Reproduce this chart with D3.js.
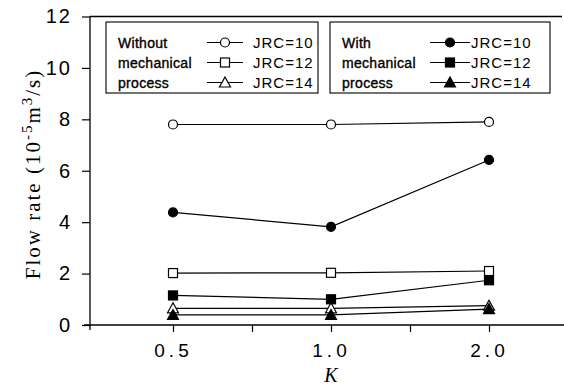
<!DOCTYPE html>
<html>
<head>
<meta charset="utf-8">
<script src="https://cdn.jsdelivr.net/npm/d3@7"></script>
<style>
  body { margin: 0; background: #fff; }
  svg { display: block; }
</style>
</head>
<body>
<div id="chart"></div>
<script>
// values
const kLabels = ["0.5", "1.0", "2.0"]
const kSlots = [1, 3, 5]          // the three K values sit on every other tick
const yTicks = [0, 2, 4, 6, 8, 10, 12]

const withoutJrc10 = [7.8, 7.8, 7.9]
const withoutJrc12 = [2.02, 2.03, 2.1]
const withoutJrc14 = [0.65, 0.65, 0.75]
const withJrc10 = [4.38, 3.82, 6.42]
const withJrc12 = [1.15, 1.0, 1.74]
const withJrc14 = [0.39, 0.39, 0.62]

const series = [
    {name: "JRC=10", values: withoutJrc10, shape: "circle", filled: false},
    {name: "JRC=12", values: withoutJrc12, shape: "square", filled: false},
    {name: "JRC=14", values: withoutJrc14, shape: "triangle", filled: false},
    {name: "JRC=10", values: withJrc10, shape: "circle", filled: true},
    {name: "JRC=12", values: withJrc12, shape: "square", filled: true},
    {name: "JRC=14", values: withJrc14, shape: "triangle", filled: true}
]

const WIDTH = 564, HEIGHT = 389

const svg = d3.select("#chart")
    .append("svg")
    .attr("width", WIDTH)
    .attr("height", HEIGHT)

const x = d3.scaleLinear()
    .domain([0, 6])
    .range([94, 568])

const y = d3.scaleLinear()
    .domain([0, 12])
    .range([325, 16.5])

const sansFont = "'Liberation Sans', Arial, sans-serif"
const serifFont = "'Liberation Serif', 'Times New Roman', serif"

// frame: top line, left axis, bottom axis
svg.append("line")
    .attr("x1", 90).attr("x2", 562)
    .attr("y1", y(12)).attr("y2", y(12))
    .attr("stroke", "#000").attr("stroke-width", 1.3)

const yAxis = d3.axisLeft(y)
    .tickValues(yTicks)
    .tickSize(8)
    .tickPadding(10)
const gy = svg.append("g")
    .attr("transform", "translate(90,0)")
    .call(yAxis)
gy.select(".domain").attr("d", "M0," + (y(12)) + "V" + (y(0) + 5)).attr("stroke-width", 1.3)
gy.selectAll(".tick line").attr("stroke-width", 1.2)
gy.selectAll(".tick text")
    .attr("font-family", sansFont)
    .attr("font-size", "20px")
    .attr("letter-spacing", "2px")
    .attr("fill", "#000")

const xAxis = d3.axisBottom(x)
    .tickValues([1, 2, 3, 4, 5])
    .tickFormat(d => kSlots.includes(d) ? kLabels[kSlots.indexOf(d)] : "")
    .tickSize(7)
    .tickPadding(12)
const gx = svg.append("g")
    .attr("transform", "translate(0," + y(0) + ")")
    .call(xAxis)
gx.select(".domain").attr("d", "M84,0H564").attr("stroke-width", 1.3)
gx.selectAll(".tick line").attr("stroke-width", 1.2)
gx.selectAll(".tick text")
    .attr("font-family", sansFont)
    .attr("font-size", "19px")
    .attr("letter-spacing", "4px")
    .attr("fill", "#000")

// axis titles
svg.append("text")
    .attr("x", x(3))
    .attr("y", 382)
    .attr("text-anchor", "middle")
    .attr("font-family", serifFont)
    .attr("font-style", "italic")
    .attr("font-size", "20px")
    .text("K")

const yLabel = svg.append("text")
    .attr("transform", "translate(40,174) rotate(-90)")
    .attr("text-anchor", "middle")
    .attr("font-family", serifFont)
    .attr("font-size", "21px")
    .attr("letter-spacing", "2px")
yLabel.append("tspan").text("Flow rate (10")
yLabel.append("tspan").attr("dy", -8).attr("font-size", "15px").text("-5")
yLabel.append("tspan").attr("dy", 8).text("m")
yLabel.append("tspan").attr("dy", -8).attr("font-size", "15px").text("3")
yLabel.append("tspan").attr("dy", 8).text("/s)")

// markers
function drawMarker(g, shape, filled, cx, cy) {
    const fill = filled ? "#000" : "#fff"
    if (shape === "circle") {
        g.append("circle").attr("cx", cx).attr("cy", cy).attr("r", 4.5)
            .attr("fill", fill).attr("stroke", "#000").attr("stroke-width", 1.2)
    } else if (shape === "square") {
        g.append("rect").attr("x", cx - 4.5).attr("y", cy - 4.5)
            .attr("width", 9).attr("height", 9)
            .attr("fill", fill).attr("stroke", "#000").attr("stroke-width", 1.2)
    } else {
        g.append("path")
            .attr("d", "M" + cx + "," + (cy - 5.5) + "L" + (cx + 5.5) + "," + (cy + 4.5) + "L" + (cx - 5.5) + "," + (cy + 4.5) + "Z")
            .attr("fill", fill).attr("stroke", "#000").attr("stroke-width", 1.2)
    }
}

const line = d3.line()
    .x((d, i) => x(kSlots[i]))
    .y(d => y(d))

const plot = svg.append("g")
series.forEach(s => {
    plot.append("path")
        .datum(s.values)
        .attr("d", line)
        .attr("fill", "none")
        .attr("stroke", "#000")
        .attr("stroke-width", 1.2)
})
series.forEach(s => {
    s.values.forEach((v, i) => drawMarker(plot, s.shape, s.filled, x(kSlots[i]), y(v)))
})

// legends
const legendBoxes = [
    {x: 106, title: ["Without", "mechanical", "process"], items: series.slice(0, 3), lx1: 207, lx2: 243, tx: 253},
    {x: 330, title: ["With", "mechanical", "process"], items: series.slice(3), lx1: 430, lx2: 470, tx: 471}
]
const boxWidths = [212, 220]

legendBoxes.forEach((b, bi) => {
    const g = svg.append("g")
    g.append("rect")
        .attr("x", b.x).attr("y", 22)
        .attr("width", boxWidths[bi]).attr("height", 71)
        .attr("fill", "#fff").attr("stroke", "#000").attr("stroke-width", 1.1)
    b.title.forEach((t, i) => {
        g.append("text")
            .attr("x", b.x + 12)
            .attr("y", 48 + i * 20)
            .attr("font-family", sansFont)
            .attr("font-size", "14px")
            .attr("letter-spacing", "0.3px")
            .attr("stroke", "#000")
            .attr("stroke-width", 0.35)
            .text(t)
    })
    b.items.forEach((s, i) => {
        const cy = 42.5 + i * 20
        g.append("line")
            .attr("x1", b.lx1).attr("x2", b.lx2)
            .attr("y1", cy).attr("y2", cy)
            .attr("stroke", "#000").attr("stroke-width", 1.1)
        drawMarker(g, s.shape, s.filled, (b.lx1 + b.lx2) / 2, cy)
        g.append("text")
            .attr("x", b.tx)
            .attr("y", cy + 5.5)
            .attr("font-family", sansFont)
            .attr("font-size", "15px")
            .attr("letter-spacing", "1px")
            .text(s.name)
    })
})
</script>
</body>
</html>
